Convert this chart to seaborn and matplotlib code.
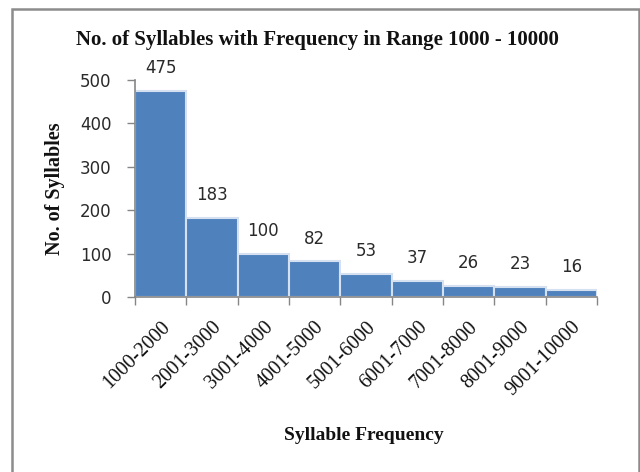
import matplotlib
matplotlib.use("Agg")
import matplotlib.pyplot as plt
import matplotlib.transforms as mtransforms
import seaborn as sns
import pandas as pd
from matplotlib.patches import Rectangle

categories = ["1000-2000", "2001-3000", "3001-4000", "4001-5000", "5001-6000",
              "6001-7000", "7001-8000", "8001-9000", "9001-10000"]
counts = [475, 183, 100, 82, 53, 37, 26, 23, 16]
yticks = [0, 100, 200, 300, 400, 500]

sns.set_theme(style="white")
plt.rcParams['font.family'] = ['DejaVu Sans']

df = pd.DataFrame({"range": categories, "count": counts})

fig = plt.figure(figsize=(6.4, 4.72), dpi=100)
ax = fig.add_axes([135/640, 1-297/472, (597-135)/640, (297-80)/472])

sns.barplot(data=df, x="range", y="count", ax=ax, color="#4F81BD",
            saturation=1, width=1.0, edgecolor="#D5E1F0", linewidth=1.5)

ax.set_ylim(0, 500)
ax.set_xlim(-0.5, len(categories) - 0.5)
ax.set_yticks(yticks)
ax.set_yticklabels([str(t) for t in yticks], fontsize=12, color="#2a2a2a")

# ticks between categories (Excel style)
ax.set_xticks([i - 0.5 for i in range(len(categories) + 1)], minor=False)
ax.set_xticklabels([""] * (len(categories) + 1))
ax.set_xticks(range(len(categories)), minor=True)
ax.set_xticklabels(categories, minor=True, rotation=45, ha="right",
                   rotation_mode="anchor", fontsize=14.5,
                   family="Liberation Serif", color="#111111")
shift = mtransforms.ScaledTranslation(5/100, 0, fig.dpi_scale_trans)
for lab in ax.get_xticklabels(minor=True):
    lab.set_transform(lab.get_transform() + shift)
ax.tick_params(axis="x", which="minor", length=0, pad=15)
ax.tick_params(axis="x", which="major", length=6, width=1, color="#868686", direction="out", bottom=True)
ax.tick_params(axis="y", length=6, width=1, color="#868686", direction="out", left=True, pad=11)

for s in ["top", "right"]:
    ax.spines[s].set_visible(False)
for s in ["left", "bottom"]:
    ax.spines[s].set_color("#868686")
    ax.spines[s].set_linewidth(1.2)

for i, v in enumerate(counts):
    ax.annotate(str(v), (i, v), xytext=(0, 10), textcoords="offset points",
                ha="center", va="bottom", fontsize=12, color="#2a2a2a")

ax.set_xlabel("")
ax.set_ylabel("")
fig.text(317/640, 1-40/472, "No. of Syllables with Frequency in Range 1000 - 10000",
         ha="center", va="center", fontsize=15, fontweight="bold",
         family="Liberation Serif", color="#111111")
fig.text(55/640, 1-189/472, "No. of Syllables", rotation=90, ha="center", va="center",
         fontsize=14.5, fontweight="bold", family="Liberation Serif", color="#111111")
fig.text(364/640, 1-435/472, "Syllable Frequency", ha="center", va="center",
         fontsize=14, fontweight="bold", family="Liberation Serif", color="#111111")

# chart area border
fig.patches.append(Rectangle((11.5/640, -0.05), (639 - 11.5)/640, 1 - 8.5/472 + 0.05,
                             transform=fig.transFigure, fill=False,
                             edgecolor="#8C8C8C", linewidth=1.8))

fig.savefig("out.png", dpi=100, facecolor="white")
